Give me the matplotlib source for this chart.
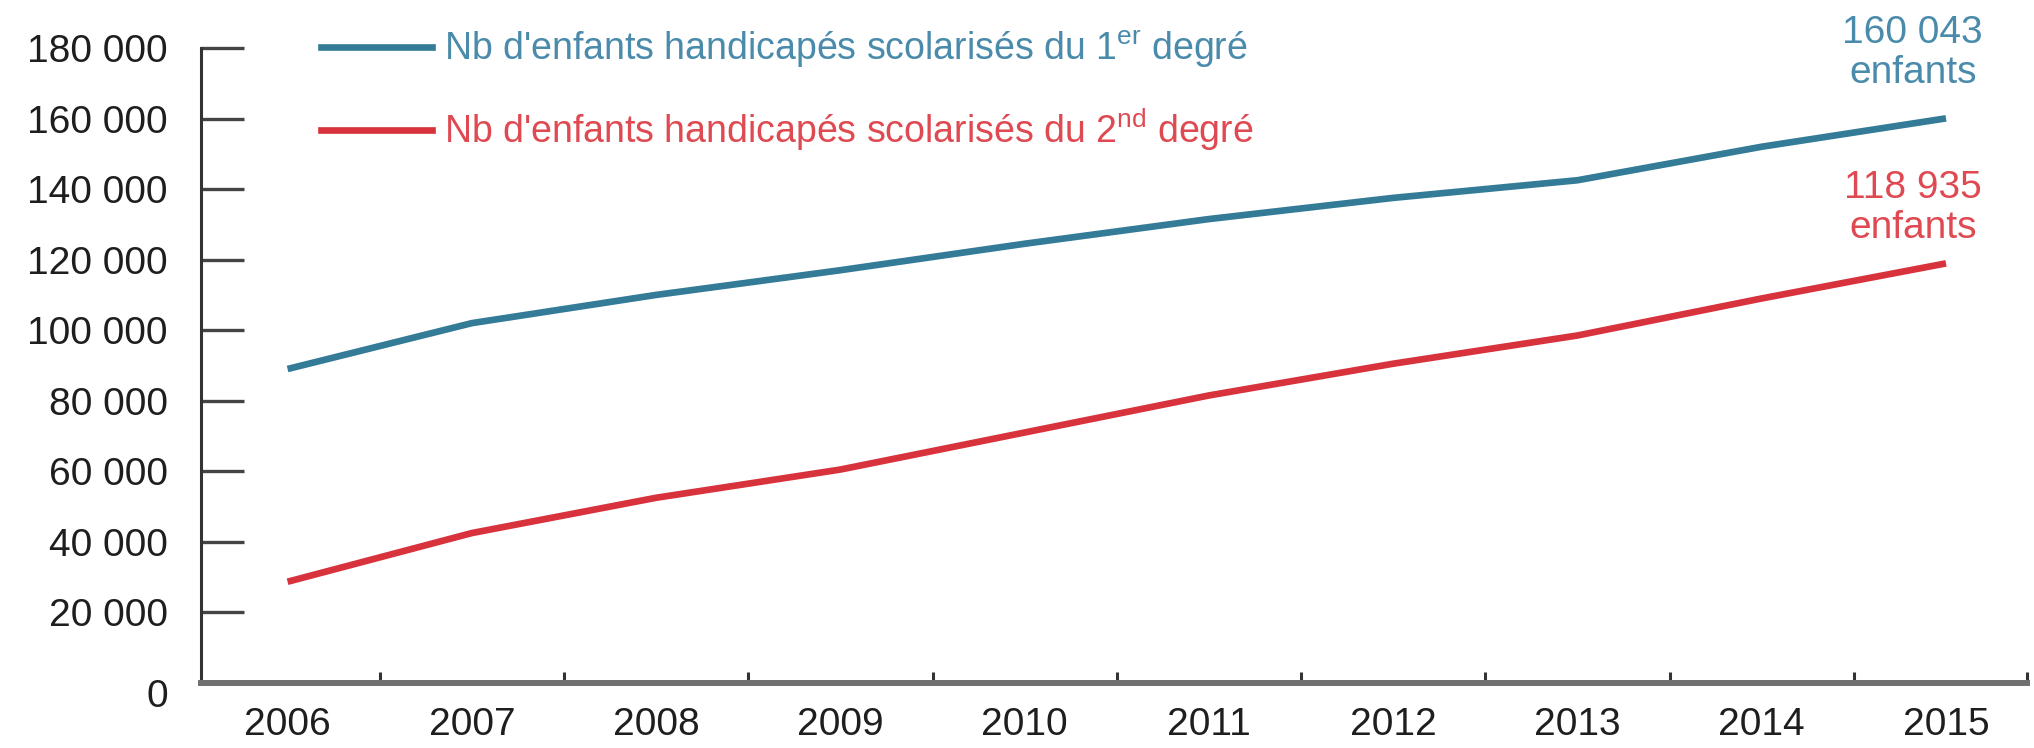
import matplotlib
matplotlib.use("Agg")
import matplotlib.pyplot as plt
import matplotlib.transforms as mtransforms
from matplotlib.lines import Line2D
from matplotlib.ticker import FixedLocator, FuncFormatter

plt.rcParams['font.family'] = ['Liberation Sans', 'DejaVu Sans']
plt.rcParams['mathtext.fontset'] = 'custom'
plt.rcParams['mathtext.rm'] = 'Liberation Sans'
plt.rcParams['mathtext.it'] = 'Liberation Sans'

years = [2006, 2007, 2008, 2009, 2010, 2011, 2012, 2013, 2014, 2015]
premier_degre = [89000, 102000, 110000, 117000, 124500, 131500, 137500, 142500, 152000, 160043]
second_degre = [28700, 42500, 52500, 60500, 71000, 81500, 90500, 98500, 109000, 118935]
label_1 = "Nb d'enfants handicapés scolarisés du 1$^{\\mathrm{er}}$ degré"
label_2 = "Nb d'enfants handicapés scolarisés du 2$^{\\mathrm{nd}}$ degré"
annot_1 = "160 043\nenfants"
annot_2 = "118 935\nenfants"
yticks = [0, 20000, 40000, 60000, 80000, 100000, 120000, 140000, 160000, 180000]

blue = '#337b96'
red = '#d8323d'
blue_txt = '#4a8bab'
red_txt = '#df4a52'

fig = plt.figure(figsize=(20.34, 7.48), dpi=100)
ax = fig.add_axes([0.0988, 0.0869, 0.8978, 0.849])

ax.plot(years, premier_degre, color=blue, lw=4.8, solid_capstyle='butt', solid_joinstyle='round')
ax.plot(years, second_degre, color=red, lw=4.8, solid_capstyle='butt', solid_joinstyle='round')

xmin, xmax = 2005.53, 2015.44
ax.set_xlim(xmin, xmax)
ax.set_ylim(0, 180000)

for s in ['top', 'right']:
    ax.spines[s].set_visible(False)
ax.spines['left'].set_color('#333333')
ax.spines['left'].set_linewidth(2.2)
ax.spines['bottom'].set_color('#707070')
ax.spines['bottom'].set_linewidth(4.3)

ax.set_yticks(yticks)
ax.yaxis.set_major_formatter(FuncFormatter(lambda v, p: f"{int(v):,}".replace(",", " ")))
ax.tick_params(axis='y', direction='in', length=31, width=2.4, color='#444444',
               labelsize=28, pad=24, labelcolor='#1e1e1e')

ax.set_xticks(years)
ax.set_xticklabels([str(y) for y in years])
ax.xaxis.set_minor_locator(FixedLocator([y + 0.5 for y in years[:-1]] + [xmax]))
ax.tick_params(axis='x', which='major', length=0, labelsize=28, pad=17, labelcolor='#1e1e1e')
ax.tick_params(axis='x', which='minor', direction='in', length=8, width=2.2, color='#333333')

fig.canvas.draw()
zero_lbl = ax.get_yticklabels()[0]
zero_lbl.set_transform(zero_lbl.get_transform() +
                       mtransforms.ScaledTranslation(0, -7 / 72, fig.dpi_scale_trans))

handles = [Line2D([0], [0], color=blue, lw=4.8), Line2D([0], [0], color=red, lw=4.8)]
leg = ax.legend(handles, [label_1, label_2], loc='upper left', bbox_to_anchor=(0.066, 1.031),
                frameon=False, fontsize=27, handlelength=2.96, handletextpad=0.32,
                labelspacing=1.0, labelcolor=[blue_txt, red_txt], borderaxespad=0, borderpad=0)

ax.annotate(annot_1, xy=(years[-1], premier_degre[-1]), xytext=(-24, 47),
            textcoords='offset points', ha='center', va='center', fontsize=28,
            color=blue_txt, linespacing=1.15, annotation_clip=False)
ax.annotate(annot_2, xy=(years[-1], second_degre[-1]), xytext=(-24, 40),
            textcoords='offset points', ha='center', va='center', fontsize=28,
            color=red_txt, linespacing=1.15, annotation_clip=False)

fig.savefig('out.png', dpi=100)
